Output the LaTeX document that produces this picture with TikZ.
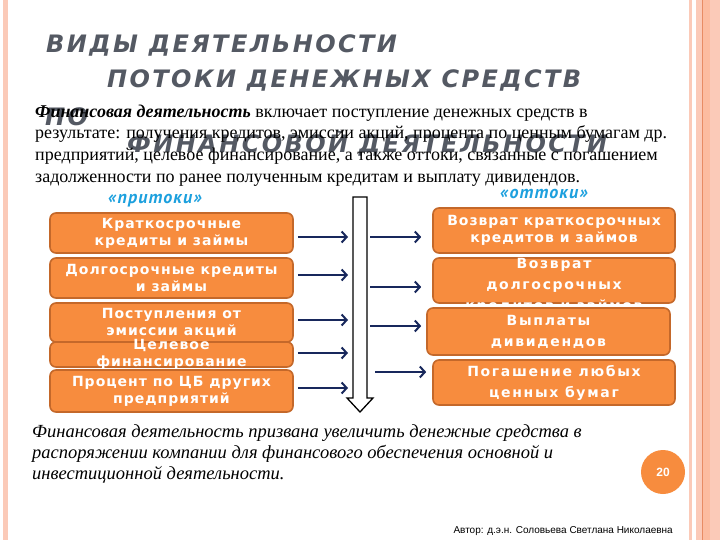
\documentclass[tikz,border=0pt]{standalone}
\usepackage{fontspec}
\setmainfont{Liberation Serif}
\newfontfamily\titlefont[LetterSpace=10,BoldItalicFont={DejaVu Sans Bold Oblique}]{DejaVu Sans}
\newfontfamily\boxfont[LetterSpace=7]{DejaVu Sans}
\newfontfamily\wideboxfont[LetterSpace=12]{DejaVu Sans}
\newfontfamily\tagfont[LetterSpace=6]{PT Sans}
\newfontfamily\authorfont{Liberation Sans}
\usetikzlibrary{arrows.meta,calc}
\definecolor{boxorange}{RGB}{247,140,62}
\definecolor{boxedge}{RGB}{196,104,42}
\definecolor{titlegray}{RGB}{84,89,99}
\definecolor{tagblue}{RGB}{28,160,222}
\definecolor{navy}{RGB}{24,40,92}
\definecolor{barpink}{RGB}{251,202,184}
\definecolor{barline}{RGB}{232,140,100}
\definecolor{barband}{RGB}{252,188,160}
\tikzset{
  obox/.style={draw=boxedge,fill=boxorange,line width=1.6pt,rounded corners=6pt,inner sep=0pt,
    text=white,align=center,font=\boxfont\bfseries\fontsize{14}{17}\selectfont},
  wbox/.style={obox,font=\wideboxfont\bfseries\fontsize{14}{21}\selectfont},
  otext/.style={inner sep=0pt,text=white,align=center,font=\boxfont\bfseries\fontsize{14}{17}\selectfont},
  flow/.style={draw=navy,line width=2.6pt,-{Straight Barb[length=5pt,width=11pt,line width=2pt]}},
  ttl/.style={anchor=base west,inner sep=0pt,text=titlegray,font=\titlefont\bfseries\itshape\fontsize{24}{26}\selectfont},
  tag/.style={anchor=base west,inner sep=0pt,text=tagblue,font=\tagfont\bfseries\itshape\fontsize{18}{20}\selectfont}
}
\begin{document}
\begin{tikzpicture}[x=1pt,y=-1pt]
\useasboundingbox (0,0) rectangle (720,540);
\fill[white] (0,0) rectangle (720,540);
\fill[barpink] (3,0) rectangle (8,540);
\fill[barpink] (689,0) rectangle (692,540);
\fill[barpink] (696,0) rectangle (720,540);
\fill[barband] (703,0) rectangle (710,540);
\draw[barline,line width=1pt] (702.5,0) -- (702.5,540);

\node[ttl] (t1) at (46,53) {ВИДЫ ДЕЯТЕЛЬНОСТИ};
\node[ttl] (t2) at (107,88) {ПОТОКИ ДЕНЕЖНЫХ СРЕДСТВ};
\node[ttl] (t3) at (45,126) {ПО};
\node[ttl] (t4) at (127,153) {ФИНАНСОВОЙ ДЕЯТЕЛЬНОСТИ};

\node[anchor=base west,inner sep=0pt,align=left,font=\fontsize{18}{22}\selectfont] (intro) at (35,183)
  {{\bfseries\itshape Финансовая деятельность} включает поступление денежных средств в\\
   результате: получения кредитов, эмиссии акций, процента по ценным бумагам др.\\
   предприятий, целевое финансирование, а также оттоки, связанные с погашением\\
   задолженности по ранее полученным кредитам и выплату дивидендов.};

\node[tag] (inflow) at (108,204) {«притоки»};
\node[tag] (outflow) at (500,199) {«оттоки»};

\draw[fill=white,line width=1.3pt] (353,197) -- (367,197) -- (367,398) -- (373,398) -- (360,412)
  -- (347,398) -- (353,398) -- cycle;
\coordinate (tl) at (348,300);
\coordinate (tr) at (370,300);

\node[obox,minimum width=243pt,minimum height=40pt] (l1) at (171.5,233) {Краткосрочные\\кредиты и займы};
\node[obox,minimum width=243pt,minimum height=40pt] (l2) at (171.5,278) {Долгосрочные кредиты\\и займы};
\node[obox,minimum width=243pt,minimum height=39pt] (l3) at (171.5,322.5) {Поступления от\\эмиссии акций};
\node[obox,minimum width=243pt,minimum height=25pt] (l4) at (171.5,354.5) {};
\begin{scope}
\clip ($(l4.north west)+(0,-3)$) rectangle (l4.south east);
\node[otext] (l4t) at (l4) {Целевое\\финансирование};
\end{scope}
\node[obox,minimum width=243pt,minimum height=42pt] (l5) at (171.5,391) {Процент по ЦБ других\\предприятий};

\node[obox,minimum width=242pt,minimum height=45pt] (r1) at (554,230.5) {Возврат краткосрочных\\кредитов и займов};
\node[obox,minimum width=242pt,minimum height=45pt] (r2) at (554,280.5) {};
\begin{scope}
\clip (r2.north west) rectangle ($(r2.south east)+(0,3)$);
\node[otext,font=\wideboxfont\bfseries\fontsize{14}{21}\selectfont] (r2t) at ($(r2)+(0,5)$) {Возврат\\долгосрочных\\кредитов и займов};
\end{scope}
\node[wbox,minimum width=243pt,minimum height=47pt] (r3) at (548.5,331.5) {Выплаты\\дивидендов};
\node[wbox,minimum width=242pt,minimum height=45pt] (r4) at (554,382.5) {Погашение любых\\ценных бумаг};

\draw[flow] ($(l1.east)+(4,4)$) -- ($(l1.east -| tl)+(0,4)$);
\draw[flow] ($(l2.east)+(4,-3)$) -- ($(l2.east -| tl)+(0,-3)$);
\draw[flow] ($(l3.east)+(4,-2.5)$) -- ($(l3.east -| tl)+(0,-2.5)$);
\draw[flow] ($(l4.east)+(4,-1.5)$) -- ($(l4.east -| tl)+(0,-1.5)$);
\draw[flow] ($(l5.east)+(4,-3)$) -- ($(l5.east -| tl)+(0,-3)$);
\draw[flow] ($(r1.west -| tr)+(0,6.5)$) -- ($(r1.west)+(-11,6.5)$);
\draw[flow] ($(r2.west -| tr)+(0,6.5)$) -- ($(r2.west)+(-11,6.5)$);
\draw[flow] ($(r3.west -| tr)+(0,-5.5)$) -- ($(r3.west)+(-5,-5.5)$);
\draw[flow] ($(r4.west -| tr)+(5,-10.5)$) -- ($(r4.west)+(-6,-10.5)$);

\node[anchor=base west,inner sep=0pt,align=left,font=\itshape\fontsize{18.5}{21}\selectfont] (summary) at (32,479)
  {Финансовая деятельность призвана увеличить денежные средства в\\
   распоряжении компании для финансового обеспечения основной и\\
   инвестиционной деятельности.};

\node[circle,fill=boxorange,minimum size=44pt,inner sep=0pt,text=white,font=\authorfont\bfseries\fontsize{12}{14}\selectfont] (page) at (663,472) {20};
\node[anchor=base east,inner sep=0pt,font=\authorfont\fontsize{10}{12}\selectfont] (author) at (673,533) {Автор: д.э.н. Соловьева Светлана Николаевна};
\end{tikzpicture}
\end{document}
